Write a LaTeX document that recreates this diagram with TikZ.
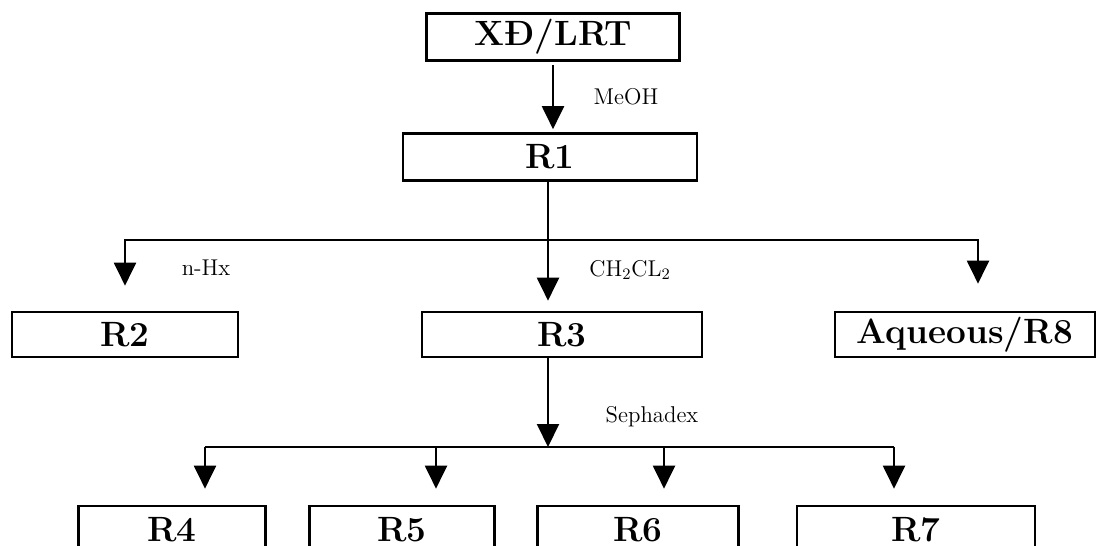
\documentclass[tikz,border=0pt]{standalone}
\usepackage{fontspec}
\usetikzlibrary{arrows.meta}

\begin{document}
\begin{tikzpicture}[x=0.02cm, y=-0.02cm, line width=1.2pt,
  box/.style={draw, line width=1.5pt, inner sep=0pt, font=\fontsize{20}{24}\selectfont\bfseries},
  lbl/.style={font=\fontsize{13}{15}\selectfont},
  arr/.style={-{Triangle[width=0.44cm,length=0.46cm]}}]
\useasboundingbox (0,0) rectangle (1099,546);
\clip (0,0) rectangle (1099,546);

\node[box, minimum width=5.06cm, minimum height=0.94cm] (xd) at (553,37) {XĐ/LRT};
\node[box, minimum width=5.88cm, minimum height=0.94cm] (r1) at (550,157) {R1};

\node[box, minimum width=4.52cm, minimum height=0.9cm] (r2) at (125,334.5) {R2};
\node[box, minimum width=5.6cm, minimum height=0.9cm] (r3) at (562,334.5) {R3};
\node[box, minimum width=5.2cm, minimum height=0.9cm] (r8) at (965,334.5) {Aqueous/R8};

\node[box, minimum width=3.74cm, minimum height=0.96cm] (r4) at (172,530) {R4};
\node[box, minimum width=3.7cm, minimum height=0.96cm] (r5) at (402,530) {R5};
\node[box, minimum width=4.02cm, minimum height=0.96cm] (r6) at (638,530) {R6};
\node[box, minimum width=4.76cm, minimum height=0.96cm] (r7) at (916,530) {R7};

% MeOH
\draw[arr, shorten <=0.06cm, shorten >=0.06cm] (xd.south) -- (xd.south |- r1.north);
\node[lbl] (meoh) at (626,97) {MeOH};

% partition of R1
\coordinate (j1) at (548,240);
\draw (r1.south -| j1) -- (j1);
\draw[arr, shorten >=0.5cm] (j1) -| (r2.north);
\draw[arr, shorten >=0.2cm] (j1) -- (j1 |- r3.north);
\draw[arr, shorten >=0.54cm] (j1) -| ([xshift=0.26cm]r8.north);
\node[lbl] (nhx) at (206,268) {n-Hx};
\node[lbl] (ch) at (630,270) {CH\textsubscript{2}CL\textsubscript{2}};

% Sephadex column
\coordinate (j2) at (548,447);
\draw[arr] (r3.south -| j2) -- (j2);
\node[lbl] (seph) at (652,417) {Sephadex};
\foreach \n/\x in {4/205,5/436,6/664,7/894}
  \coordinate (a\n) at (\x,447);
\draw (a4) -- (a7);
\foreach \n in {4,...,7}
  \draw[arr, shorten >=0.32cm] (a\n) -- (a\n |- r\n.north);
\end{tikzpicture}
\end{document}
